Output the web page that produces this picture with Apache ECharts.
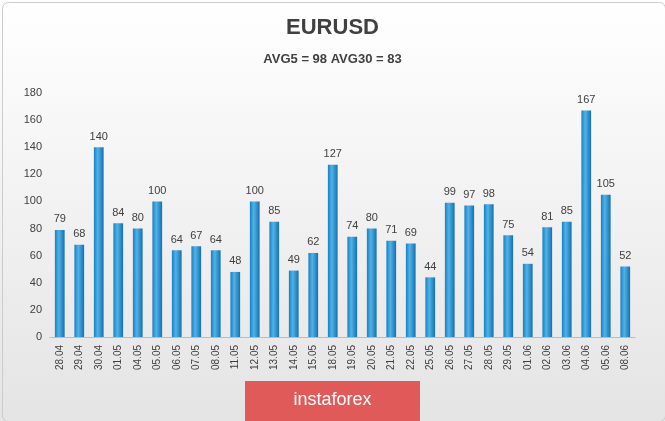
<!DOCTYPE html>
<html><head><meta charset="utf-8">
<script src="https://cdn.jsdelivr.net/npm/echarts@6/dist/echarts.min.js"></script>
<style>html,body{margin:0;padding:0;background:#fff}#c{width:665px;height:421px}</style>
</head><body><div id="c"></div>
<script>
const categories=["28.04","29.04","30.04","01.05","04.05","05.05","06.05","07.05","08.05","11.05","12.05","13.05","14.05","15.05","18.05","19.05","20.05","21.05","22.05","25.05","26.05","27.05","28.05","29.05","01.06","02.06","03.06","04.06","05.06","08.06"];
const values=[79,68,140,84,80,100,64,67,64,48,100,85,49,62,127,74,80,71,69,44,99,97,98,75,54,81,85,167,105,52];
const yTicks=[0,20,40,60,80,100,120,140,160,180];
const chart=echarts.init(document.getElementById('c'));
chart.setOption({
 animation:false,
 backgroundColor:new echarts.graphic.LinearGradient(0,0,0,1,[{offset:0,color:'#ffffff'},{offset:1,color:'#e4e4e4'}]),
 title:[{text:'EURUSD',left:'center',top:12,textStyle:{fontFamily:'Liberation Sans',fontSize:22,fontWeight:'bold',color:'#404040'}},
  {text:'AVG5 = 98 AVG30 = 83',left:'center',top:48,textStyle:{fontFamily:'Liberation Sans',fontSize:13,fontWeight:'bold',color:'#404040'}}],
 grid:{left:50,right:30,top:93,bottom:84},
 xAxis:{type:'category',data:categories,axisTick:{show:false},axisLine:{lineStyle:{color:'#bbb'}},
  axisLabel:{rotate:90,color:'#404040',fontSize:10,fontFamily:'Liberation Sans',interval:0}},
 yAxis:{type:'value',min:0,max:180,interval:20,axisLine:{show:false},axisTick:{show:false},
  axisLabel:{color:'#404040',fontSize:11,fontFamily:'Liberation Sans'},splitLine:{show:false}},
 series:[{type:'bar',data:values,barWidth:'50%',
  itemStyle:{color:new echarts.graphic.LinearGradient(0,0,1,0,[{offset:0,color:'#1a7fc0'},{offset:0.4,color:'#4fb3ea'},{offset:1,color:'#1670ad'}])},
  label:{show:true,position:'top',color:'#404040',fontSize:11,fontFamily:'Liberation Sans'}}],
 graphic:[{type:'rect',left:245,top:381,shape:{width:175,height:40},style:{fill:'#e05a5a'}},
  {type:'text',left:'center',top:391,style:{text:'instaforex',fill:'#fff',font:'18px Liberation Sans'}},
  {type:'rect',left:0,top:0,shape:{width:663,height:419,r:6},style:{fill:'none',stroke:'#cccccc',lineWidth:1}}]
});
</script></body></html>
